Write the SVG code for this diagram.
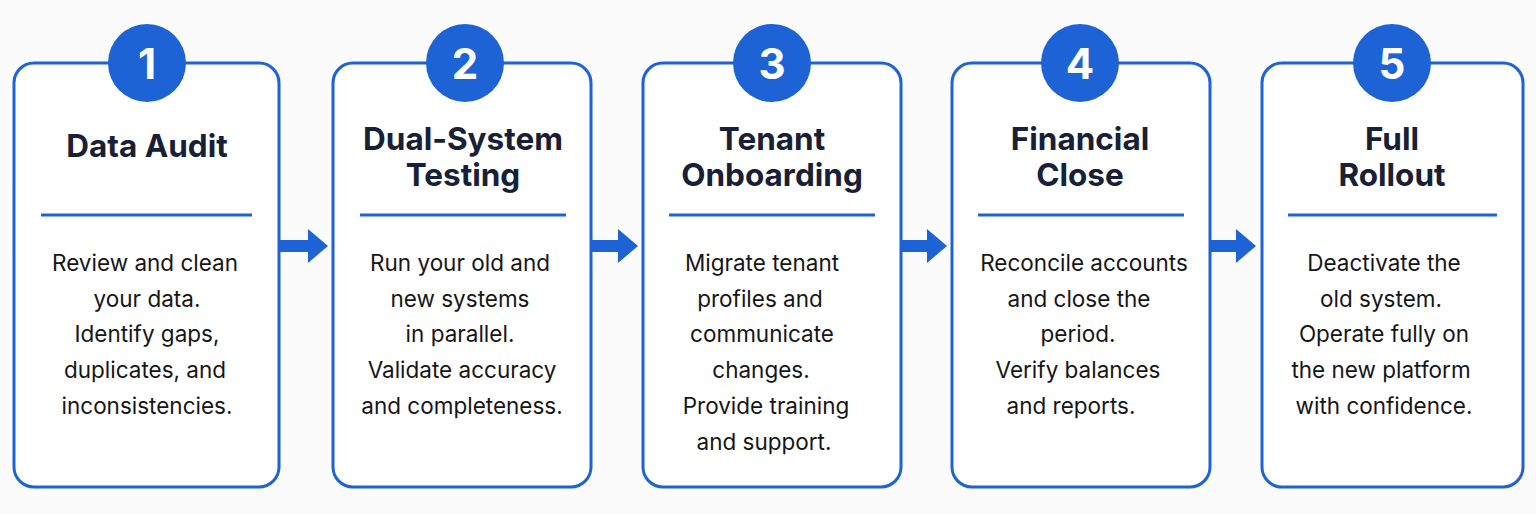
<svg xmlns="http://www.w3.org/2000/svg" width="1536" height="514" viewBox="0 0 1536 514">
<style>
.box{fill:#ffffff;stroke:#1d63d6;stroke-width:3}
.num{fill:#1d63d6}
.numt{font-family:Inter,"Noto Sans",sans-serif;font-weight:700;font-size:42px;fill:#ffffff;text-anchor:middle}
.title{font-family:Inter,"Noto Sans",sans-serif;font-weight:700;font-size:31.5px;fill:#172036;text-anchor:middle}
.div{stroke:#1d63d6;stroke-width:3}
.body{font-family:Inter,"Noto Sans",sans-serif;font-size:22.5px;fill:#161616;text-anchor:middle}
.arrow{fill:#1d63d6}
</style>
<rect width="1536" height="514" fill="#fbfbfb"/>
<g id="connectors">
<path class="arrow" d="M279,240 H308 V229 L328,246 L308,263 V252 H279 Z"/>
<path class="arrow" d="M591,240 H618 V229 L638,246 L618,263 V252 H591 Z"/>
<path class="arrow" d="M901,240 H927 V229 L947,246 L927,263 V252 H901 Z"/>
<path class="arrow" d="M1210,240 H1236 V229 L1256,246 L1236,263 V252 H1210 Z"/>
</g>
<g id="step1">
<rect class="box" x="14" y="63" width="265" height="424" rx="20"/>
<circle class="num" cx="147" cy="63" r="39"/>
<text class="numt" x="147" y="79">1</text>
<text class="title" x="147" y="157">Data Audit</text>
<line class="div" x1="41" y1="215" x2="252" y2="215"/>
<text class="body" x="145" y="271">Review and clean</text>
<text class="body" x="147" y="307">your data.</text>
<text class="body" x="147" y="342">Identify gaps,</text>
<text class="body" x="145" y="378">duplicates, and</text>
<text class="body" x="147" y="414">inconsistencies.</text>
</g>
<g id="step2">
<rect class="box" x="333" y="63" width="258" height="424" rx="20"/>
<circle class="num" cx="465" cy="63" r="39"/>
<text class="numt" x="465" y="79">2</text>
<text class="title" x="463" y="150">Dual-System</text>
<text class="title" x="463" y="186">Testing</text>
<line class="div" x1="360" y1="215" x2="566" y2="215"/>
<text class="body" x="460" y="271">Run your old and</text>
<text class="body" x="460" y="307">new systems</text>
<text class="body" x="460" y="342">in parallel.</text>
<text class="body" x="462" y="378">Validate accuracy</text>
<text class="body" x="462" y="414">and completeness.</text>
</g>
<g id="step3">
<rect class="box" x="643" y="63" width="258" height="424" rx="20"/>
<circle class="num" cx="772" cy="63" r="39"/>
<text class="numt" x="772" y="79">3</text>
<text class="title" x="772" y="150">Tenant</text>
<text class="title" x="772" y="186">Onboarding</text>
<line class="div" x1="669" y1="215" x2="875" y2="215"/>
<text class="body" x="762" y="271">Migrate tenant</text>
<text class="body" x="760" y="307">profiles and</text>
<text class="body" x="762" y="342">communicate</text>
<text class="body" x="761" y="378">changes.</text>
<text class="body" x="766" y="414">Provide training</text>
<text class="body" x="764" y="450">and support.</text>
</g>
<g id="step4">
<rect class="box" x="952" y="63" width="258" height="424" rx="20"/>
<circle class="num" cx="1080" cy="63" r="39"/>
<text class="numt" x="1080" y="79">4</text>
<text class="title" x="1080" y="150">Financial</text>
<text class="title" x="1080" y="186">Close</text>
<line class="div" x1="978" y1="215" x2="1184" y2="215"/>
<text class="body" x="1084" y="271">Reconcile accounts</text>
<text class="body" x="1079" y="307">and close the</text>
<text class="body" x="1078" y="342">period.</text>
<text class="body" x="1078" y="378">Verify balances</text>
<text class="body" x="1071" y="414">and reports.</text>
</g>
<g id="step5">
<rect class="box" x="1262" y="63" width="261" height="424" rx="20"/>
<circle class="num" cx="1392" cy="63" r="39"/>
<text class="numt" x="1392" y="79">5</text>
<text class="title" x="1392" y="150">Full</text>
<text class="title" x="1392" y="186">Rollout</text>
<line class="div" x1="1288" y1="215" x2="1497" y2="215"/>
<text class="body" x="1384" y="271">Deactivate the</text>
<text class="body" x="1381" y="307">old system.</text>
<text class="body" x="1384" y="342">Operate fully on</text>
<text class="body" x="1381" y="378">the new platform</text>
<text class="body" x="1384" y="414">with confidence.</text>
</g>
</svg>
